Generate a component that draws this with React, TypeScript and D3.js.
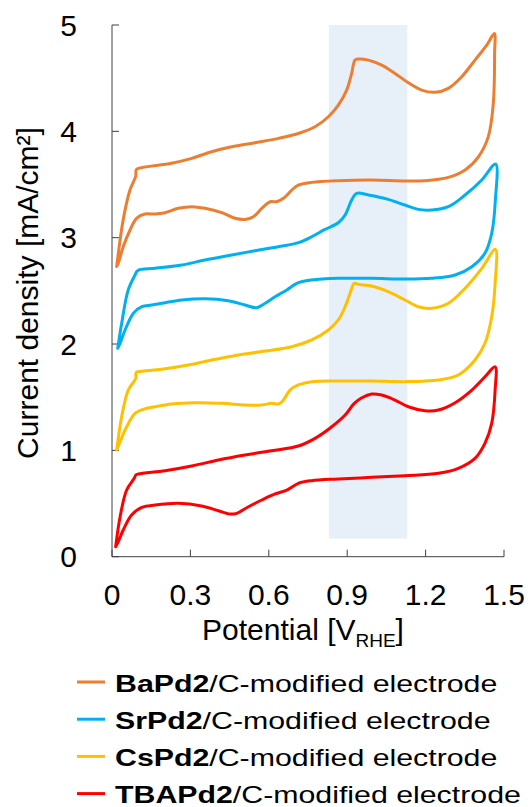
import React from 'react';
import * as d3 from 'd3';

// CV loops, [potential V_RHE, current density mA/cm2]
const baPd2: [number, number][] = [
  [0.018, 2.73], [0.043, 3.17], [0.069, 3.45], [0.091, 3.58], [0.092, 3.635], [0.101, 3.652],
  [0.228, 3.7], [0.305, 3.746], [0.381, 3.808], [0.458, 3.855], [0.547, 3.893], [0.637, 3.934],
  [0.713, 3.98], [0.777, 4.043], [0.828, 4.137], [0.866, 4.247], [0.898, 4.388], [0.917, 4.545],
  [0.93, 4.67], [0.943, 4.68], [0.981, 4.67], [1.032, 4.623], [1.083, 4.545], [1.134, 4.457],
  [1.185, 4.388], [1.236, 4.367], [1.287, 4.404], [1.338, 4.513], [1.389, 4.67], [1.434, 4.81],
  [1.463, 4.92], [1.464, 4.73], [1.459, 4.26], [1.44, 3.95], [1.402, 3.76], [1.351, 3.636],
  [1.287, 3.567], [1.198, 3.536], [1.121, 3.533], [0.994, 3.542], [0.866, 3.536], [0.764, 3.52],
  [0.713, 3.495], [0.688, 3.448], [0.656, 3.37], [0.63, 3.338], [0.605, 3.338], [0.573, 3.276],
  [0.541, 3.197], [0.509, 3.172], [0.471, 3.182], [0.42, 3.235], [0.356, 3.276], [0.305, 3.291],
  [0.254, 3.276], [0.203, 3.235], [0.165, 3.222], [0.126, 3.222], [0.094, 3.182], [0.069, 3.072],
  [0.043, 2.915], [0.024, 2.759], [0.018, 2.73],
];

const srPd2: [number, number][] = [
  [0.022, 1.96], [0.037, 2.195], [0.062, 2.508], [0.088, 2.649], [0.098, 2.69], [0.165, 2.712],
  [0.267, 2.743], [0.356, 2.79], [0.458, 2.837], [0.547, 2.877], [0.636, 2.915], [0.713, 2.953],
  [0.764, 3.009], [0.815, 3.078], [0.866, 3.14], [0.892, 3.213], [0.917, 3.354], [0.936, 3.417],
  [0.981, 3.401], [1.057, 3.36], [1.121, 3.307], [1.172, 3.266], [1.223, 3.26], [1.287, 3.291],
  [1.351, 3.401], [1.415, 3.542], [1.468, 3.693], [1.467, 3.354], [1.453, 3.04], [1.427, 2.853],
  [1.377, 2.727], [1.313, 2.649], [1.223, 2.618], [1.121, 2.611], [0.994, 2.618], [0.866, 2.618],
  [0.764, 2.602], [0.707, 2.571], [0.669, 2.508], [0.624, 2.445], [0.586, 2.383], [0.554, 2.342],
  [0.509, 2.367], [0.445, 2.407], [0.356, 2.426], [0.267, 2.414], [0.203, 2.388], [0.152, 2.367],
  [0.114, 2.351], [0.082, 2.289], [0.05, 2.132], [0.031, 2.007], [0.022, 1.96],
];

const csPd2: [number, number][] = [
  [0.018, 1.003], [0.037, 1.316], [0.062, 1.567], [0.091, 1.677], [0.092, 1.73], [0.101, 1.74],
  [0.19, 1.762], [0.292, 1.802], [0.381, 1.849], [0.483, 1.897], [0.586, 1.934], [0.688, 1.975],
  [0.764, 2.038], [0.828, 2.132], [0.866, 2.226], [0.892, 2.351], [0.911, 2.477], [0.927, 2.571],
  [0.943, 2.561], [0.994, 2.545], [1.057, 2.492], [1.121, 2.414], [1.172, 2.351], [1.223, 2.336],
  [1.287, 2.383], [1.351, 2.524], [1.415, 2.712], [1.467, 2.89], [1.466, 2.571], [1.453, 2.257],
  [1.427, 2.007], [1.389, 1.85], [1.325, 1.709], [1.249, 1.662], [1.121, 1.646], [0.994, 1.652],
  [0.866, 1.652], [0.764, 1.646], [0.713, 1.615], [0.681, 1.567], [0.656, 1.473], [0.637, 1.436],
  [0.611, 1.442], [0.573, 1.426], [0.509, 1.426], [0.42, 1.442], [0.318, 1.448], [0.228, 1.436],
  [0.165, 1.41], [0.12, 1.386], [0.088, 1.348], [0.056, 1.222], [0.031, 1.081], [0.018, 1.003],
];

const tbaPd2: [number, number][] = [
  [0.014, 0.094], [0.031, 0.376], [0.056, 0.627], [0.085, 0.737], [0.091, 0.768], [0.101, 0.778],
  [0.203, 0.809], [0.305, 0.853], [0.407, 0.909], [0.509, 0.956], [0.611, 0.997], [0.713, 1.041],
  [0.777, 1.113], [0.841, 1.222], [0.892, 1.332], [0.927, 1.442], [0.956, 1.495], [0.994, 1.53],
  [1.032, 1.52], [1.083, 1.473], [1.134, 1.41], [1.198, 1.373], [1.249, 1.379], [1.313, 1.448],
  [1.377, 1.567], [1.427, 1.692], [1.466, 1.786], [1.466, 1.567], [1.453, 1.254], [1.427, 1.066],
  [1.389, 0.925], [1.325, 0.831], [1.249, 0.784], [1.121, 0.762], [0.994, 0.746], [0.866, 0.731],
  [0.764, 0.715], [0.713, 0.69], [0.669, 0.627], [0.624, 0.59], [0.573, 0.533], [0.522, 0.47],
  [0.477, 0.408], [0.452, 0.401], [0.407, 0.432], [0.343, 0.477], [0.254, 0.502], [0.165, 0.486],
  [0.114, 0.464], [0.075, 0.392], [0.043, 0.251], [0.024, 0.141], [0.014, 0.094],
];

const seriesNames = ['BaPd2', 'SrPd2', 'CsPd2', 'TBAPd2'];
const seriesColors = ['#ED7D31', '#00B0F0', '#FFC000', '#FF0000'];
const seriesData = [baPd2, srPd2, csPd2, tbaPd2];

const xTicks = [0, 0.3, 0.6, 0.9, 1.2, 1.5];
const yTicks = [0, 1, 2, 3, 4, 5];
const highlight = { x0: 0.83, x1: 1.13, y0: 0.17, y1: 5 };

const font = '"Liberation Sans", Arial, sans-serif';

const App = () => {
  const x = d3.scaleLinear().domain([0, 1.5]).range([112, 504]);
  const y = d3.scaleLinear().domain([0, 5]).range([556.7, 25]);

  const line = d3.line<[number, number]>()
    .x(d => x(d[0]))
    .y(d => y(d[1]))
    .curve(d3.curveCatmullRom.alpha(0.5));

  const axisColor = '#404040';

  return (
    <svg width={532} height={807} style={{ position: 'absolute', left: 0, top: 0 }} fontFamily={font}>
      <rect width={532} height={807} fill="#fff" />

      {/* highlight band */}
      <rect
        x={x(highlight.x0)}
        y={y(highlight.y1)}
        width={x(highlight.x1) - x(highlight.x0)}
        height={y(highlight.y0) - y(highlight.y1)}
        fill="#e7f0f8"
      />

      {/* axes */}
      <line x1={x(0)} x2={x(0)} y1={y(5)} y2={y(0)} stroke={axisColor} strokeWidth={1} />
      <line x1={x(0)} x2={x(1.5)} y1={y(0)} y2={y(0)} stroke={axisColor} strokeWidth={1} />
      {yTicks.map(t => (
        <g key={'y' + t}>
          <line x1={x(0)} x2={x(0) + 7} y1={y(t)} y2={y(t)} stroke={axisColor} />
          <text x={77} y={y(t) + 10.5} textAnchor="end" fontSize={30} fill="#000">{t}</text>
        </g>
      ))}
      {xTicks.map(t => (
        <g key={'x' + t}>
          <line x1={x(t)} x2={x(t)} y1={y(0)} y2={y(0) - 7} stroke={axisColor} />
          <text x={x(t)} y={605} textAnchor="middle" fontSize={30} fill="#000">{t}</text>
        </g>
      ))}

      {/* curves */}
      {seriesData.map((d, i) => (
        <path key={seriesNames[i]} d={line(d) || ''} fill="none" stroke={seriesColors[i]}
          strokeWidth={3} strokeLinejoin="round" strokeLinecap="round" />
      ))}

      {/* axis titles */}
      <text x={303} y={640} textAnchor="middle" fontSize={30} fill="#000">
        Potential [V<tspan fontSize={19} dy={7}>RHE</tspan><tspan dy={-7}>]</tspan>
      </text>
      <text transform="translate(38,293) rotate(-90)" textAnchor="middle" fontSize={30} fill="#000">
        Current density [mA/cm²]
      </text>

      {/* legend */}
      {seriesNames.map((name, i) => {
        const cy = 682 + i * 37.2;
        return (
          <g key={'leg' + name}>
            <line x1={77} x2={105} y1={cy} y2={cy} stroke={seriesColors[i]} strokeWidth={3} />
            <text transform={`translate(115,${cy + 9.5}) scale(1.29,1)`} fontSize={23.5} fill="#000">
              <tspan fontWeight="bold">{name}</tspan>/C-modified electrode
            </text>
          </g>
        );
      })}
    </svg>
  );
};

export default App;
